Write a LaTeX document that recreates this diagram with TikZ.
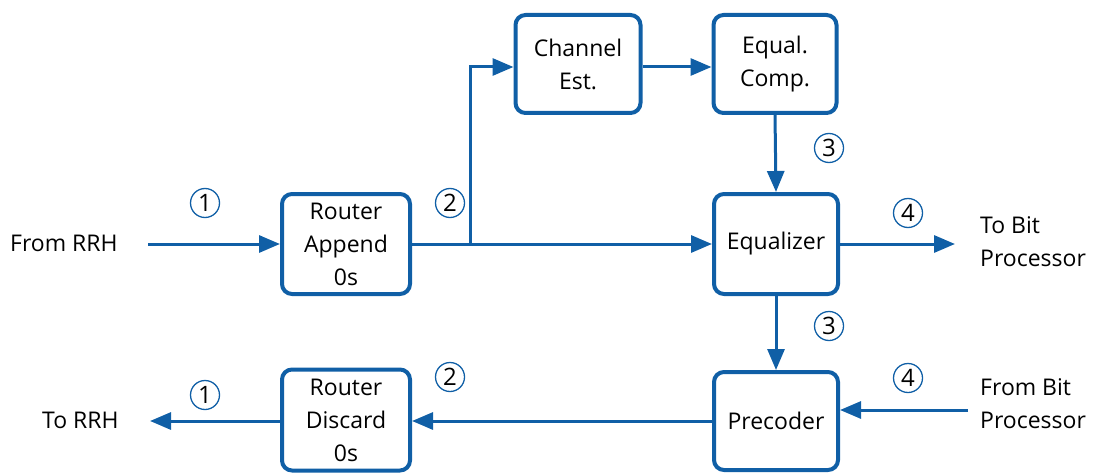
\documentclass[tikz,border=0pt]{standalone}
\usepackage{fontspec}
\setmainfont{Open Sans}
\usetikzlibrary{arrows.meta}
\definecolor{blu}{RGB}{16,95,166}
\begin{document}
\begin{tikzpicture}[x=1pt,y=-1pt,
  blk/.style={draw=blu,line width=4pt,rounded corners=10pt,fill=white,align=center,
    font=\fontsize{23}{33}\selectfont,inner sep=0pt},
  lbl/.style={align=left,font=\fontsize{23}{33}\selectfont,inner sep=0pt},
  num/.style={draw=blu,circle,line width=1.3pt,minimum size=29pt,inner sep=0pt,
    font=\fontsize{24}{24}\selectfont\addfontfeatures{Numbers=Lining}},
  con/.style={draw=blu,line width=3pt,-{Triangle[length=21pt,width=17pt]}},
  ln/.style={draw=blu,line width=3pt}]
\useasboundingbox (0,0) rectangle (1094,476);
\node[blk,minimum width=128pt,minimum height=100pt] (ra) at (346,244) {Router\\Append\\0s};
\node[blk,minimum width=125pt,minimum height=98pt] (ce) at (578,64) {Channel\\Est.};
\node[blk,minimum width=123pt,minimum height=98pt] (ec) at (775,64) {Equal.\\Comp.};
\node[blk,minimum width=124pt,minimum height=100pt] (eq) at (776,244) {Equalizer};
\node[blk,minimum width=124pt,minimum height=98pt] (pc) at (776,421) {Precoder};
\node[blk,minimum width=128pt,minimum height=101pt] (rd) at (346,420) {Router\\Discard\\0s};
\node[lbl,anchor=west] (frrh) at (10,243) {From RRH};
\node[lbl,anchor=west] (tbp) at (980,242) {To Bit\\Processor};
\node[lbl,anchor=west] (fbp) at (980,404) {From Bit\\Processor};
\node[lbl,anchor=west] (trrh) at (42,420) {To RRH};
\coordinate (a1) at (148,244);
\coordinate (br) at (470,244);
\coordinate (o1) at (955,244);
\coordinate (i4) at (968,410);
\coordinate (o5) at (150,421);
\draw[con] (a1) -- (ra.west |- a1);
\draw[con] (ra.east |- br) -- (eq.west |- br);
\draw[con] (br) |- (ce.west |- 0,67);
\draw[con] (ce.east |- 0,67) -- (ec.west |- 0,67);
\draw[con] (ec.south) -- (eq.north);
\draw[con] (eq.south) -- (pc.north);
\draw[con] (eq.east |- o1) -- (o1);
\draw[con] (i4) -- (pc.east |- i4);
\draw[con] (pc.west |- 0,421) -- (rd.east |- 0,421);
\draw[con] (rd.west |- o5) -- (o5);
\node[num] (n1) at (205,203) {1};
\node[num] (n2) at (450,203) {2};
\node[num] (n3) at (829,148) {3};
\node[num] (n4) at (908,213) {4};
\node[num] (n5) at (829,326) {3};
\node[num] (n6) at (450,377) {2};
\node[num] (n7) at (908,378) {4};
\node[num] (n8) at (205,395) {1};
\end{tikzpicture}
\end{document}
